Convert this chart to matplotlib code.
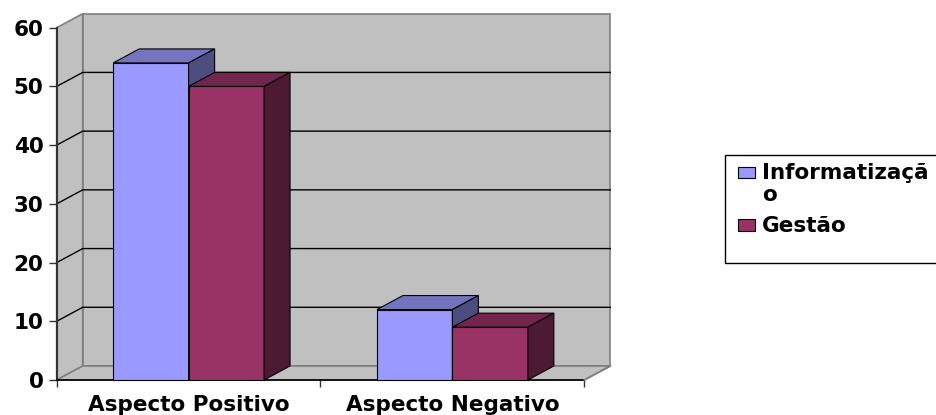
import numpy as np
import matplotlib.pyplot as plt
from matplotlib.patches import Polygon, Rectangle

# data
categories = ['Aspecto Positivo', 'Aspecto Negativo']
series_names = ['Informatizaçã\no', 'Gestão']
informatizacao = [54, 12]
gestao = [50, 9]
yticks = [0, 10, 20, 30, 40, 50, 60]

front_colors = ['#9999FF', '#993366']
top_colors = ['#7373C0', '#73264D']
side_colors = ['#4D4D80', '#4D1A33']
wall = '#C0C0C0'
wall_edge = '#808080'

plt.rcParams['font.family'] = ['DejaVu Sans']
plt.rcParams['font.weight'] = 'bold'
fs = 15.5

W, H = 937, 415
fig = plt.figure(figsize=(W / 100, H / 100), dpi=100)
ax = fig.add_axes([56.7 / W, 35 / H, 527.6 / W, 352.3 / H])
n = len(categories)
ymax = yticks[-1]
ax.set_xlim(0, n)
ax.set_ylim(0, ymax)
for s in ax.spines.values():
    s.set_visible(False)
ax.patch.set_visible(False)

# 3d depth offset (in data units)
dx = 26 / 263.8
dy = 14 * ymax / 352.3

# walls and floor
kw = dict(fc=wall, ec=wall_edge, lw=1.2, clip_on=False, zorder=0)
ax.add_patch(Polygon([(dx, dy), (n + dx, dy), (n + dx, ymax + dy), (dx, ymax + dy)], **kw))
ax.add_patch(Polygon([(0, 0), (dx, dy), (dx, ymax + dy), (0, ymax)], **kw))
ax.add_patch(Polygon([(0, 0), (n, 0), (n + dx, dy), (dx, dy)], **kw))
for v in yticks[1:-1]:
    ax.plot([0, dx, n + dx], [v, v + dy, v + dy], color='black', lw=1, clip_on=False, zorder=1)

# bars
w = 0.286
for i, vals in enumerate([informatizacao, gestao]):
    x0s = np.arange(n) + 0.5 - w + i * w
    ax.bar(x0s, vals, width=w, align='edge', color=front_colors[i], edgecolor='black',
           lw=0.8, zorder=3 + i, clip_on=False)
    for x0, v in zip(x0s, vals):
        x1 = x0 + w
        ax.add_patch(Polygon([(x0, v), (x0 + dx, v + dy), (x1 + dx, v + dy), (x1, v)],
                             fc=top_colors[i], ec='black', lw=0.8, zorder=3 + i, clip_on=False))
        ax.add_patch(Polygon([(x1, 0), (x1 + dx, dy), (x1 + dx, v + dy), (x1, v)],
                             fc=side_colors[i], ec='black', lw=0.8, zorder=3 + i, clip_on=False))

# axis lines
ax.plot([0, 0], [0, ymax], color='#333333', lw=1.5, clip_on=False, zorder=2)
ax.plot([0, n], [0, 0], color='black', lw=1.2, clip_on=False, zorder=2)
ax.plot([n, n + dx], [0, dy], color=wall_edge, lw=1.2, clip_on=False, zorder=2)

ax.set_yticks(yticks)
ax.tick_params(axis='y', length=6, width=1, pad=3.5, labelsize=fs, color='#333333')
ax.set_xticks(range(n + 1))
ax.set_xticklabels([])
ax.set_xticks(np.arange(n) + 0.5, minor=True)
ax.set_xticklabels(categories, minor=True)
ax.tick_params(axis='x', which='major', length=5, width=1, color='#333333')
ax.tick_params(axis='x', which='minor', length=0, pad=11, labelsize=fs)

# legend
fig.add_artist(Rectangle((725 / W, 1 - 263 / H), 0.3, 108 / H, transform=fig.transFigure,
                         fc='white', ec='black', lw=1))
hy = [178.3, 230.7]
for i, name in enumerate(series_names):
    fig.add_artist(Rectangle((738 / W, 1 - hy[i] / H), 16.7 / W, 11.5 / H, transform=fig.transFigure,
                             fc=front_colors[i], ec='black', lw=0.8))
fig.text(762 / W, 1 - 163 / H, series_names[0], va='top', ha='left', fontsize=fs,
         fontweight='bold', linespacing=1.15)
fig.text(762 / W, 1 - 231.7 / H, series_names[1], va='baseline', ha='left', fontsize=fs,
         fontweight='bold')

fig.savefig('out.png', dpi=100)
